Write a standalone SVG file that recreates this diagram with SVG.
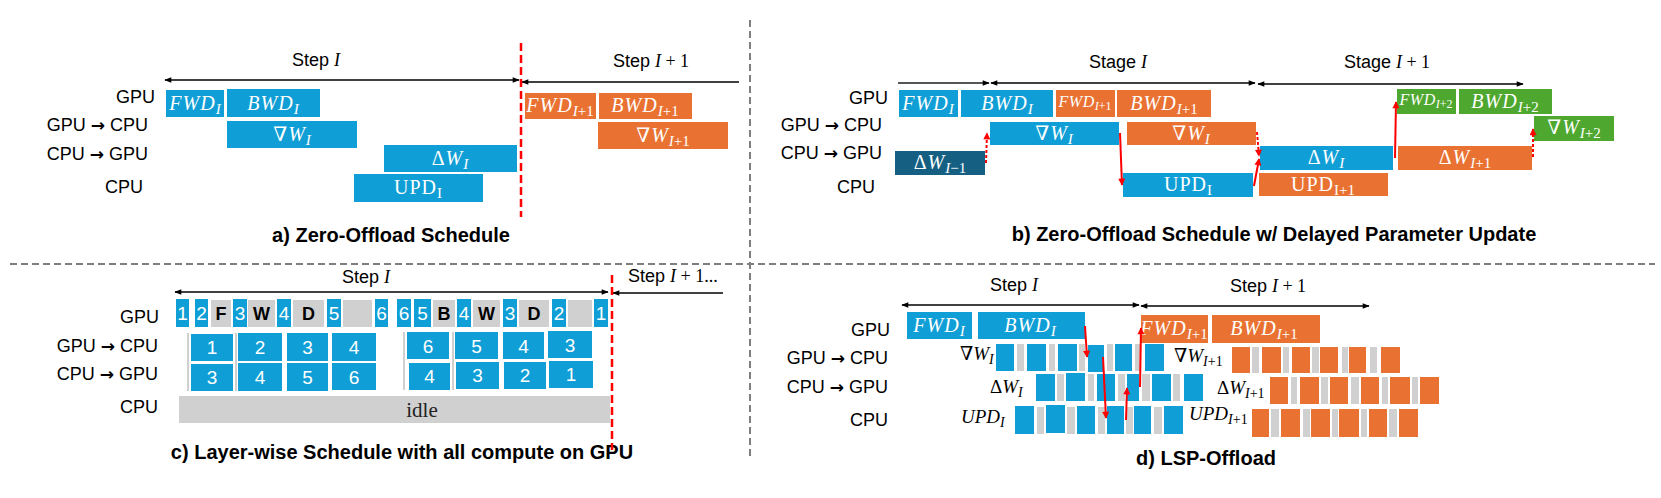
<svg xmlns="http://www.w3.org/2000/svg" width="1661" height="498" viewBox="0 0 1661 498">
<style>
.lb{font-family:"Liberation Sans","DejaVu Sans",sans-serif;font-size:18px;fill:#000;text-anchor:end}
.ar{font-family:"DejaVu Sans",sans-serif;font-weight:bold;font-size:17px}
.st{font-family:"Liberation Sans","DejaVu Sans",sans-serif;font-size:18px;fill:#000;text-anchor:middle}
.cap{font-family:"Liberation Sans","DejaVu Sans",sans-serif;font-size:20px;font-weight:bold;fill:#000;text-anchor:middle}
.m{font-family:"Liberation Serif","DejaVu Serif",serif;font-style:italic}
.r{font-family:"Liberation Serif","DejaVu Serif",serif;font-style:normal}
.bx{font-family:"Liberation Serif","DejaVu Serif",serif;font-size:20px;font-style:italic;fill:#fff;text-anchor:middle;letter-spacing:1px}
.bxs{font-size:15px;letter-spacing:0}
.sm{font-size:16px;letter-spacing:0.5px}
.sms{font-size:12px;letter-spacing:0}
.ml{font-family:"Liberation Serif","DejaVu Serif",serif;font-size:19px;font-style:italic;fill:#000}
.b{fill:#0F9ED5}.o{fill:#E97132}.g{fill:#4EA72E}.d{fill:#156082}.gy{fill:#D0D0D0}
.num{font-family:"Liberation Sans","DejaVu Sans",sans-serif;font-size:19px;fill:#fff;text-anchor:middle}
.let{font-family:"Liberation Sans","DejaVu Sans",sans-serif;font-size:18px;font-weight:bold;fill:#000;text-anchor:middle}
.arr{stroke:#000;stroke-width:1.3;fill:none}
.red{stroke:#FF0000;stroke-width:2;fill:none}
.redd{stroke:#FF0000;stroke-width:2;fill:none;stroke-dasharray:3 2}
.rdash{stroke:#FF0000;stroke-width:2.5;fill:none;stroke-dasharray:8 4}
.sep{stroke:#7F7F7F;stroke-width:2;fill:none;stroke-dasharray:7 4}
</style>
<defs>
<marker id="ah" viewBox="0 0 10 10" refX="9" refY="5" markerUnits="userSpaceOnUse" markerWidth="8" markerHeight="7" orient="auto-start-reverse"><path d="M0,1 L10,5 L0,9 z" fill="#000"/></marker>
<marker id="rh" viewBox="0 0 10 10" refX="9" refY="5" markerUnits="userSpaceOnUse" markerWidth="8" markerHeight="7" orient="auto"><path d="M0,0 L10,5 L0,10 z" fill="#FF0000"/></marker>
</defs>

<g id="separators">
<line class="sep" x1="750" y1="20" x2="750" y2="457"/>
<line class="sep" x1="10" y1="264" x2="1655" y2="264"/>
</g>

<!-- Panel a -->
<g id="panel-a">
<text class="st" x="316" y="66">Step <tspan class="m">I</tspan></text>
<text class="st" x="651" y="67">Step <tspan class="m">I</tspan><tspan class="r"> + 1</tspan></text>
<text class="lb" x="155" y="103">GPU</text>
<text class="lb" x="148" y="131">GPU <tspan class="ar">→</tspan> CPU</text>
<text class="lb" x="148" y="160">CPU <tspan class="ar">→</tspan> GPU</text>
<text class="lb" x="143" y="193">CPU</text>
<g id="a-fwd"><rect class="b" x="166" y="90" width="58" height="27"/><text class="bx" x="195" y="110">FWD<tspan class="bxs" dy="4">I</tspan></text></g>
<g id="a-bwd"><rect class="b" x="227" y="89" width="93" height="28"/><text class="bx" x="273" y="110">BWD<tspan class="bxs" dy="4">I</tspan></text></g>
<g id="a-grad"><rect class="b" x="227" y="121" width="130" height="27"/><text class="bx" x="292" y="141"><tspan class="r">∇</tspan>W<tspan class="bxs" dy="4">I</tspan></text></g>
<g id="a-dw"><rect class="b" x="384" y="145" width="133" height="27"/><text class="bx" x="450" y="165"><tspan class="r">Δ</tspan>W<tspan class="bxs" dy="4">I</tspan></text></g>
<g id="a-upd"><rect class="b" x="354" y="174" width="129" height="28"/><text class="bx" x="418" y="194"><tspan class="r">UPD</tspan><tspan class="r bxs" dy="4">I</tspan></text></g>
<g id="a-fwd1"><rect class="o" x="525" y="93" width="71" height="26"/><text class="bx" x="560" y="112">FWD<tspan class="bxs" dy="4">I</tspan><tspan class="r bxs">+1</tspan></text></g>
<g id="a-bwd1"><rect class="o" x="599" y="93" width="93" height="26"/><text class="bx" x="645" y="112">BWD<tspan class="bxs" dy="4">I</tspan><tspan class="r bxs">+1</tspan></text></g>
<g id="a-grad1"><rect class="o" x="598" y="122" width="130" height="27"/><text class="bx" x="663" y="142"><tspan class="r">∇</tspan>W<tspan class="bxs" dy="4">I</tspan><tspan class="r bxs">+1</tspan></text></g>
<text class="cap" x="391" y="242">a) Zero-Offload Schedule</text>
</g>

<!-- Panel b -->
<g id="panel-b">
<text class="st" x="1118" y="68">Stage <tspan class="m">I</tspan></text>
<text class="st" x="1387" y="68">Stage <tspan class="m">I</tspan><tspan class="r"> + 1</tspan></text>
<text class="lb" x="888" y="104">GPU</text>
<text class="lb" x="882" y="131">GPU <tspan class="ar">→</tspan> CPU</text>
<text class="lb" x="882" y="159">CPU <tspan class="ar">→</tspan> GPU</text>
<text class="lb" x="875" y="193">CPU</text>
<g id="b-fwd"><rect class="b" x="899" y="90" width="59" height="27"/><text class="bx" x="928" y="110">FWD<tspan class="bxs" dy="4">I</tspan></text></g>
<g id="b-bwd"><rect class="b" x="961" y="90" width="92" height="27"/><text class="bx" x="1007" y="110">BWD<tspan class="bxs" dy="4">I</tspan></text></g>
<g id="b-fwd1"><rect class="o" x="1056" y="90" width="59" height="27"/><text class="bx" x="1085" y="107"><tspan class="sm">FWD</tspan><tspan class="sms" dy="3">I</tspan><tspan class="r sms">+1</tspan></text></g>
<g id="b-bwd1"><rect class="o" x="1117" y="90" width="94" height="27"/><text class="bx" x="1164" y="110">BWD<tspan class="bxs" dy="4">I</tspan><tspan class="r bxs">+1</tspan></text></g>
<g id="b-grad"><rect class="b" x="990" y="122" width="129" height="23"/><text class="bx" x="1054" y="140"><tspan class="r">∇</tspan>W<tspan class="bxs" dy="4">I</tspan></text></g>
<g id="b-grad1"><rect class="o" x="1127" y="122" width="129" height="23"/><text class="bx" x="1191" y="140"><tspan class="r">∇</tspan>W<tspan class="bxs" dy="4">I</tspan></text></g>
<g id="b-dwm1"><rect class="d" x="895" y="151" width="90" height="24"/><text class="bx" x="940" y="169"><tspan class="r">Δ</tspan>W<tspan class="bxs" dy="4">I</tspan><tspan class="r bxs">−1</tspan></text></g>
<g id="b-dw"><rect class="b" x="1260" y="146" width="133" height="24"/><text class="bx" x="1326" y="164"><tspan class="r">Δ</tspan>W<tspan class="bxs" dy="4">I</tspan></text></g>
<g id="b-dw1"><rect class="o" x="1398" y="146" width="134" height="24"/><text class="bx" x="1465" y="164"><tspan class="r">Δ</tspan>W<tspan class="bxs" dy="4">I</tspan><tspan class="r bxs">+1</tspan></text></g>
<g id="b-upd"><rect class="b" x="1123" y="173" width="130" height="24"/><text class="bx" x="1188" y="191"><tspan class="r">UPD</tspan><tspan class="r bxs" dy="4">I</tspan></text></g>
<g id="b-upd1"><rect class="o" x="1259" y="173" width="129" height="23"/><text class="bx" x="1323" y="191"><tspan class="r">UPD</tspan><tspan class="r bxs" dy="4">I+1</tspan></text></g>
<g id="b-fwd2"><rect class="g" x="1397" y="89" width="59" height="25"/><text class="bx" x="1426" y="105"><tspan class="sm">FWD</tspan><tspan class="sms" dy="3">I</tspan><tspan class="r sms">+2</tspan></text></g>
<g id="b-bwd2"><rect class="g" x="1459" y="89" width="93" height="25"/><text class="bx" x="1505" y="108">BWD<tspan class="bxs" dy="4">I</tspan><tspan class="r bxs">+2</tspan></text></g>
<g id="b-grad2"><rect class="g" x="1534" y="116" width="80" height="25"/><text class="bx" x="1574" y="134"><tspan class="r">∇</tspan>W<tspan class="bxs" dy="4">I</tspan><tspan class="r bxs">+2</tspan></text></g>
<text class="cap" x="1274" y="241">b) Zero-Offload Schedule w/ Delayed Parameter Update</text>
</g>

<!-- Panel c -->
<g id="panel-c">
<text class="st" x="366" y="283">Step <tspan class="m">I</tspan></text>
<text class="st" x="628" y="282" style="text-anchor:start">Step <tspan class="m">I</tspan><tspan class="r"> + 1...</tspan></text>
<text class="lb" x="159" y="323">GPU</text>
<text class="lb" x="158" y="352">GPU <tspan class="ar">→</tspan> CPU</text>
<text class="lb" x="158" y="380">CPU <tspan class="ar">→</tspan> GPU</text>
<text class="lb" x="158" y="413">CPU</text>
<g id="c-gpu">
<rect class="b" x="176" y="299" width="13" height="28"/><text class="num" x="182.5" y="320">1</text>
<rect class="b" x="195" y="299" width="13" height="28"/><text class="num" x="201.5" y="320">2</text>
<rect class="gy" x="211" y="300" width="20" height="27"/><text class="let" x="221" y="320">F</text>
<rect class="b" x="233" y="299" width="14" height="28"/><text class="num" x="240" y="320">3</text>
<rect class="gy" x="248" y="300" width="27" height="27"/><text class="let" x="261.5" y="320">W</text>
<rect class="b" x="277" y="299" width="14" height="28"/><text class="num" x="284" y="320">4</text>
<rect class="gy" x="293" y="300" width="31" height="27"/><text class="let" x="308.5" y="320">D</text>
<rect class="b" x="327" y="299" width="14" height="28"/><text class="num" x="334" y="320">5</text>
<rect class="gy" x="343" y="300" width="29" height="27"/>
<rect class="b" x="375" y="299" width="13" height="28"/><text class="num" x="381.5" y="320">6</text>
<rect class="b" x="397" y="299" width="14" height="28"/><text class="num" x="404" y="320">6</text>
<rect class="b" x="414" y="299" width="17" height="28"/><text class="num" x="422.5" y="320">5</text>
<rect class="gy" x="433" y="300" width="22" height="27"/><text class="let" x="444" y="320">B</text>
<rect class="b" x="457" y="299" width="14" height="28"/><text class="num" x="464" y="320">4</text>
<rect class="gy" x="473" y="300" width="27" height="27"/><text class="let" x="486.5" y="320">W</text>
<rect class="b" x="503" y="299" width="14" height="28"/><text class="num" x="510" y="320">3</text>
<rect class="gy" x="519" y="300" width="30" height="27"/><text class="let" x="534" y="320">D</text>
<rect class="b" x="552" y="299" width="14" height="28"/><text class="num" x="559" y="320">2</text>
<rect class="gy" x="568" y="300" width="24" height="27"/>
<rect class="b" x="594" y="299" width="14" height="28"/><text class="num" x="601" y="320">1</text>
</g>
<g id="c-g2c">
<line x1="188" y1="333" x2="188" y2="391" stroke="#D0D0D0" stroke-width="2"/>
<line x1="236" y1="333" x2="236" y2="391" stroke="#D0D0D0" stroke-width="2"/>
<line x1="404" y1="332" x2="404" y2="390" stroke="#D0D0D0" stroke-width="2"/>
<line x1="453" y1="332" x2="453" y2="390" stroke="#D0D0D0" stroke-width="2"/>
<rect class="b" x="191" y="334" width="42" height="27"/><text class="num" x="212" y="354">1</text>
<rect class="b" x="238" y="333" width="44" height="28"/><text class="num" x="260" y="354">2</text>
<rect class="b" x="287" y="333" width="41" height="28"/><text class="num" x="307.5" y="354">3</text>
<rect class="b" x="332" y="333" width="44" height="28"/><text class="num" x="354" y="354">4</text>
<rect class="b" x="407" y="332" width="42" height="27"/><text class="num" x="428" y="353">6</text>
<rect class="b" x="455" y="332" width="43" height="27"/><text class="num" x="476.5" y="353">5</text>
<rect class="b" x="503" y="332" width="41" height="27"/><text class="num" x="523.5" y="353">4</text>
<rect class="b" x="548" y="331" width="44" height="27"/><text class="num" x="570" y="352">3</text>
</g>
<g id="c-c2g">
<rect class="b" x="191" y="364" width="42" height="27"/><text class="num" x="212" y="384">3</text>
<rect class="b" x="238" y="363" width="44" height="28"/><text class="num" x="260" y="384">4</text>
<rect class="b" x="287" y="363" width="41" height="28"/><text class="num" x="307.5" y="384">5</text>
<rect class="b" x="332" y="363" width="44" height="27"/><text class="num" x="354" y="384">6</text>
<rect class="b" x="409" y="363" width="41" height="27"/><text class="num" x="429.5" y="383">4</text>
<rect class="b" x="456" y="362" width="43" height="27"/><text class="num" x="477.5" y="382">3</text>
<rect class="b" x="504" y="362" width="42" height="27"/><text class="num" x="525" y="382">2</text>
<rect class="b" x="549" y="361" width="44" height="27"/><text class="num" x="571" y="381">1</text>
</g>
<g id="c-cpu"><rect class="gy" x="179" y="396" width="431" height="27"/><text x="422" y="417" font-family="Liberation Serif, DejaVu Serif, serif" font-size="21" fill="#222" text-anchor="middle">idle</text></g>
<text class="cap" x="402" y="459">c) Layer-wise Schedule with all compute on GPU</text>
</g>

<!-- Panel d -->
<g id="panel-d">
<text class="st" x="1014" y="291">Step <tspan class="m">I</tspan></text>
<text class="st" x="1268" y="292">Step <tspan class="m">I</tspan><tspan class="r"> + 1</tspan></text>
<text class="lb" x="890" y="336">GPU</text>
<text class="lb" x="888" y="364">GPU <tspan class="ar">→</tspan> CPU</text>
<text class="lb" x="888" y="393">CPU <tspan class="ar">→</tspan> GPU</text>
<text class="lb" x="888" y="426">CPU</text>
<g id="d-fwd"><rect class="b" x="907" y="312" width="65" height="27"/><text class="bx" x="939" y="332">FWD<tspan class="bxs" dy="4">I</tspan></text></g>
<g id="d-bwd"><rect class="b" x="978" y="312" width="107" height="27"/><text class="bx" x="1030" y="332">BWD<tspan class="bxs" dy="4">I</tspan></text></g>
<g id="d-fwd1"><rect class="o" x="1141" y="315" width="67" height="28"/><text class="bx" x="1174" y="335">FWD<tspan class="bxs" dy="4">I</tspan><tspan class="r bxs">+1</tspan></text></g>
<g id="d-bwd1"><rect class="o" x="1212" y="315" width="108" height="28"/><text class="bx" x="1264" y="335">BWD<tspan class="bxs" dy="4">I</tspan><tspan class="r bxs">+1</tspan></text></g>
<text class="ml" x="960" y="360"><tspan class="r">∇</tspan>W<tspan font-size="14" dy="4">I</tspan></text>
<text class="ml" x="990" y="393"><tspan class="r">Δ</tspan>W<tspan font-size="14" dy="4">I</tspan></text>
<text class="ml" x="961" y="423">UPD<tspan font-size="14" dy="4">I</tspan></text>
<text class="ml" x="1174" y="362"><tspan class="r">∇</tspan>W<tspan font-size="14" dy="4">I</tspan><tspan class="r" font-size="14">+1</tspan></text>
<text class="ml" x="1217" y="394"><tspan class="r">Δ</tspan>W<tspan font-size="14" dy="4">I</tspan><tspan class="r" font-size="14">+1</tspan></text>
<text class="ml" x="1189" y="420">UPD<tspan font-size="14" dy="4">I</tspan><tspan class="r" font-size="14">+1</tspan></text>
<g id="d-g2c-blue">
<rect class="b" x="996" y="344" width="18" height="27"/><rect class="gy" x="1017" y="344" width="7" height="27"/>
<rect class="b" x="1027" y="344" width="19" height="27"/><rect class="gy" x="1049" y="344" width="6" height="27"/>
<rect class="b" x="1058" y="344" width="19" height="27"/><rect class="gy" x="1079" y="344" width="6" height="27"/>
<rect class="b" x="1088" y="345" width="16" height="27"/><rect class="gy" x="1107" y="344" width="6" height="27"/>
<rect class="b" x="1115" y="344" width="17" height="27"/><rect class="gy" x="1135" y="344" width="6" height="27"/>
<rect class="b" x="1145" y="344" width="19" height="27"/>
</g>
<g id="d-c2g-blue">
<rect class="b" x="1036" y="374" width="19" height="27"/><rect class="gy" x="1057" y="374" width="7" height="27"/>
<rect class="b" x="1066" y="373" width="19" height="28"/><rect class="gy" x="1088" y="374" width="6" height="27"/>
<rect class="b" x="1097" y="374" width="18" height="27"/><rect class="gy" x="1118" y="374" width="7" height="27"/>
<rect class="b" x="1127" y="374" width="12" height="27"/><rect class="gy" x="1142" y="374" width="8" height="27"/>
<rect class="b" x="1152" y="374" width="19" height="27"/><rect class="gy" x="1173" y="374" width="7" height="27"/>
<rect class="b" x="1184" y="374" width="19" height="27"/>
</g>
<g id="d-cpu-blue">
<rect class="b" x="1015" y="406" width="19" height="28"/><rect class="gy" x="1037" y="407" width="7" height="27"/>
<rect class="b" x="1046" y="405" width="19" height="28"/><rect class="gy" x="1067" y="407" width="8" height="27"/>
<rect class="b" x="1077" y="406" width="18" height="28"/><rect class="gy" x="1098" y="407" width="7" height="27"/>
<rect class="b" x="1107" y="406" width="17" height="28"/><rect class="gy" x="1126" y="407" width="7" height="27"/>
<rect class="b" x="1134" y="406" width="17" height="28"/><rect class="gy" x="1154" y="407" width="8" height="27"/>
<rect class="b" x="1164" y="406" width="19" height="28"/>
</g>
<g id="d-g2c-orange">
<rect class="o" x="1232" y="347" width="18" height="26"/><rect class="gy" x="1252" y="347" width="7" height="26"/>
<rect class="o" x="1262" y="347" width="19" height="26"/><rect class="gy" x="1283" y="347" width="6" height="26"/>
<rect class="o" x="1292" y="347" width="18" height="26"/><rect class="gy" x="1312" y="347" width="7" height="26"/>
<rect class="o" x="1320" y="347" width="18" height="26"/><rect class="gy" x="1342" y="347" width="6" height="26"/>
<rect class="o" x="1349" y="347" width="17" height="26"/><rect class="gy" x="1370" y="347" width="7" height="26"/>
<rect class="o" x="1381" y="347" width="19" height="26"/>
</g>
<g id="d-c2g-orange">
<rect class="o" x="1270" y="377" width="18" height="27"/><rect class="gy" x="1291" y="377" width="6" height="27"/>
<rect class="o" x="1300" y="377" width="19" height="27"/><rect class="gy" x="1321" y="377" width="7" height="27"/>
<rect class="o" x="1330" y="377" width="18" height="27"/><rect class="gy" x="1351" y="377" width="8" height="27"/>
<rect class="o" x="1361" y="377" width="18" height="27"/><rect class="gy" x="1382" y="377" width="6" height="27"/>
<rect class="o" x="1390" y="377" width="20" height="27"/><rect class="gy" x="1412" y="377" width="6" height="27"/>
<rect class="o" x="1420" y="377" width="19" height="27"/>
</g>
<g id="d-cpu-orange">
<rect class="o" x="1252" y="409" width="17" height="28"/><rect class="gy" x="1271" y="409" width="8" height="28"/>
<rect class="o" x="1281" y="409" width="19" height="28"/><rect class="gy" x="1303" y="409" width="7" height="28"/>
<rect class="o" x="1311" y="409" width="19" height="28"/><rect class="gy" x="1332" y="409" width="6" height="28"/>
<rect class="o" x="1339" y="409" width="20" height="28"/><rect class="gy" x="1361" y="409" width="6" height="28"/>
<rect class="o" x="1369" y="409" width="18" height="28"/><rect class="gy" x="1389" y="409" width="8" height="28"/>
<rect class="o" x="1399" y="409" width="19" height="28"/>
</g>
<text class="cap" x="1206" y="465">d) LSP-Offload</text>
</g>

<g id="connectors">
<line class="arr" x1="165" y1="80" x2="519" y2="80" marker-start="url(#ah)" marker-end="url(#ah)"/>
<line class="arr" x1="739" y1="82" x2="522" y2="82" marker-end="url(#ah)"/>
<line class="rdash" x1="521" y1="43" x2="521" y2="217"/>
<line x1="898" y1="83" x2="989" y2="83" stroke="#555" stroke-width="2" marker-end="url(#ah)"/>
<line class="arr" x1="991" y1="83" x2="1255" y2="83" marker-start="url(#ah)" marker-end="url(#ah)"/>
<line class="arr" x1="1258" y1="84" x2="1523" y2="84" marker-start="url(#ah)" marker-end="url(#ah)"/>
<line class="arr" x1="175" y1="292" x2="608" y2="292" marker-start="url(#ah)" marker-end="url(#ah)"/>
<line class="arr" x1="723" y1="293" x2="613" y2="293" marker-end="url(#ah)"/>
<line class="rdash" x1="612" y1="275" x2="612" y2="450"/>
<line class="arr" x1="902" y1="305" x2="1139" y2="305" marker-start="url(#ah)" marker-end="url(#ah)"/>
<line class="arr" x1="1141" y1="306" x2="1369" y2="306" marker-start="url(#ah)" marker-end="url(#ah)"/>
<line class="redd" x1="986" y1="163" x2="987" y2="133" marker-end="url(#rh)"/>
<line class="red" x1="1120" y1="133" x2="1122" y2="185" marker-end="url(#rh)"/>
<line class="redd" x1="1257" y1="132" x2="1259" y2="156" marker-end="url(#rh)"/>
<line class="red" x1="1254" y1="186" x2="1259" y2="159" marker-end="url(#rh)"/>
<line class="red" x1="1395" y1="158" x2="1396" y2="102" marker-end="url(#rh)"/>
<line class="redd" x1="1533" y1="157" x2="1533" y2="129" marker-end="url(#rh)"/>
<line class="red" x1="1085" y1="326" x2="1087" y2="357" marker-end="url(#rh)"/>
<line class="red" x1="1103" y1="357" x2="1106" y2="418" marker-end="url(#rh)"/>
<line class="red" x1="1126" y1="420" x2="1127" y2="388" marker-end="url(#rh)"/>
<line class="red" x1="1140" y1="387" x2="1141" y2="328" marker-end="url(#rh)"/>
</g>
</svg>
